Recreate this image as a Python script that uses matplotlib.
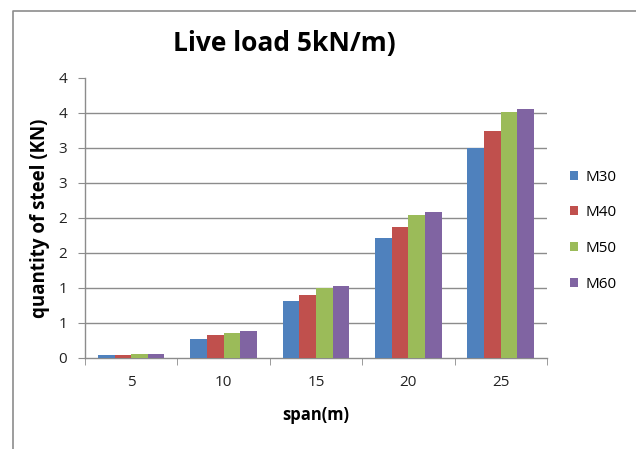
import numpy as np
import matplotlib.pyplot as plt
from matplotlib.lines import Line2D
from matplotlib.ticker import FixedLocator, FixedFormatter

spans = ['5', '10', '15', '20', '25']
series = ['M30', 'M40', 'M50', 'M60']
m30 = [0.04, 0.27, 0.82, 1.72, 3.00]
m40 = [0.04, 0.33, 0.90, 1.87, 3.24]
m50 = [0.06, 0.35, 1.00, 2.04, 3.52]
m60 = [0.06, 0.38, 1.03, 2.08, 3.55]
yticks = [0, 0.5, 1, 1.5, 2, 2.5, 3, 3.5, 4]
ytick_labels = ['0', '1', '1', '2', '2', '3', '3', '4', '4']

colors = ['#4F81BD', '#C0504D', '#9BBB59', '#8064A2']
font = ['Open Sans', 'DejaVu Sans']

fig = plt.figure(figsize=(6.36, 4.49), dpi=100)
ax = fig.add_axes([0.1336, 0.2027, 0.7264, 0.6236])

x = np.arange(len(spans))
w = 0.18
for k, (vals, name) in enumerate(zip([m30, m40, m50, m60], series)):
    ax.bar(x + (k - 1.5) * w, vals, width=w, color=colors[k], label=name, zorder=3)

ax.set_xlim(-0.5, len(spans) - 0.5)
ax.set_ylim(0, 4)
ax.yaxis.set_major_locator(FixedLocator(yticks))
ax.yaxis.set_major_formatter(FixedFormatter(ytick_labels))
for t in yticks[1:-1]:
    ax.axhline(t, color='#8c8c8c', lw=1.0, zorder=1)

ax.set_xticks(x)
ax.set_xticklabels(spans)
ax.set_xticks(np.arange(-0.5, len(spans)), minor=True)
ax.tick_params(axis='x', which='major', length=0, pad=12, labelsize=11, colors='#222222')
ax.tick_params(axis='x', which='minor', length=5, color='#8c8c8c')
ax.tick_params(axis='y', length=5, color='#8c8c8c', labelsize=11, labelcolor='#222222', pad=8)
for lab in ax.get_xticklabels() + ax.get_yticklabels():
    lab.set_family(font)

for s in ['top', 'right']:
    ax.spines[s].set_visible(False)
for s in ['left', 'bottom']:
    ax.spines[s].set_color('#8c8c8c')
    ax.spines[s].set_linewidth(1.0)

ax.set_xlabel('span(m)', fontsize=12, fontweight='bold', family=font, labelpad=12)
ax.set_ylabel('quantity of steel (KN)', fontsize=13.5, fontweight='bold', family=font, labelpad=6)

fig.text(0.447, 0.904, 'Live load 5kN/m)', ha='center', va='center',
         fontsize=19, fontweight='bold', family=font)

leg = ax.legend(loc='center left', bbox_to_anchor=(1.02, 0.455), frameon=False,
                handlelength=0.55, handleheight=0.55, handletextpad=0.5,
                labelspacing=1.35, prop={'family': font, 'size': 11})

# outer chart frame (left and top edges visible)
fig.add_artist(Line2D([0.0204, 0.0204, 1.0], [0.0, 0.9766, 0.9766],
                      transform=fig.transFigure, color='#8c8c8c', lw=1.2))

fig.savefig('out.png', dpi=100)
